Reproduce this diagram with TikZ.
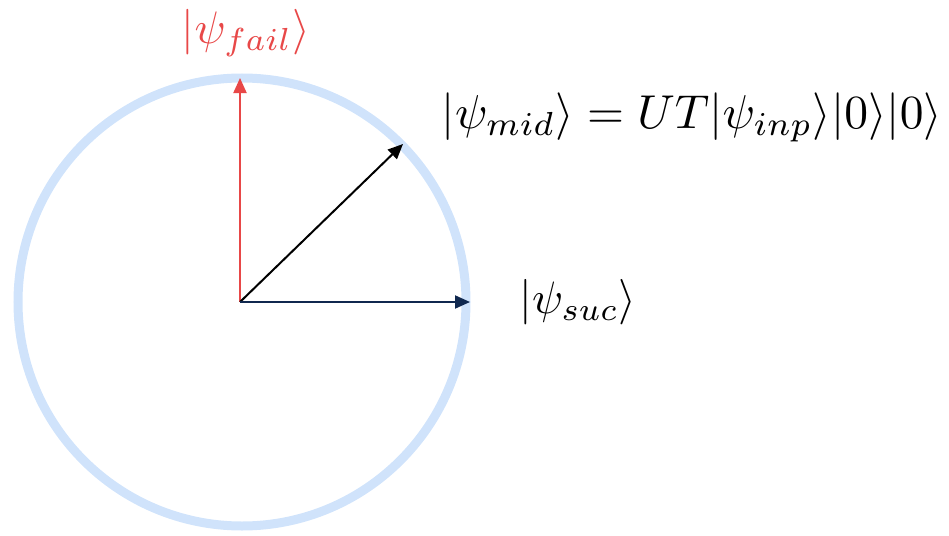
\documentclass[tikz,border=0pt]{standalone}
\usepackage{graphicx}
\usetikzlibrary{arrows.meta}
\definecolor{ringblue}{HTML}{D0E3FB}
\definecolor{failred}{HTML}{E84848}
\definecolor{navy}{HTML}{10284F}
\begin{document}
\begin{tikzpicture}[x=1pt,y=-1pt,
  vec/.style={line width=2pt,-{Triangle[length=15pt,width=13pt]}},
  lab/.style={inner sep=0pt}]
\useasboundingbox (0,0) rectangle (949,535);
\draw[ringblue,line width=9pt] (242,302) circle[radius=224];
\coordinate (o) at (240,302);
\coordinate (f) at (240,78);
\coordinate (m) at (403,144);
\coordinate (s) at (470,302);
\draw[vec,failred] (o) -- (f);
\draw[vec,black] (o) -- (m);
\draw[vec,navy] (o) -- (s);
\node[lab,failred] (lf) at (246,33) {\resizebox{128pt}{!}{$|\psi_{fail}\rangle$}};
\node[lab] (lm) at (692,117) {\resizebox{500pt}{!}{$|\psi_{mid}\rangle = UT|\psi_{inp}\rangle|0\rangle|0\rangle$}};
\node[lab] (ls) at (578,302) {\resizebox{117pt}{!}{$|\psi_{suc}\rangle$}};
\end{tikzpicture}
\end{document}
